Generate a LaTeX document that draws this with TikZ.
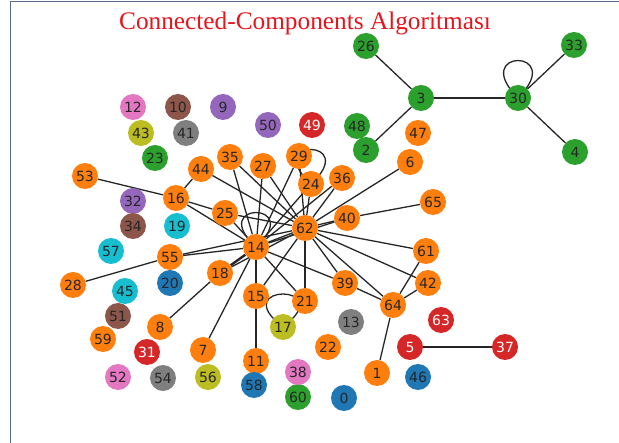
\documentclass[tikz,border=0pt]{standalone}
\usepackage{fontspec}
\setmainfont{DejaVu Sans}
\newfontfamily\titlefont{Liberation Serif}
\usetikzlibrary{backgrounds}
\definecolor{cOr}{HTML}{FF7F0E}
\definecolor{cGr}{HTML}{2CA02C}
\definecolor{cRd}{HTML}{D62728}
\definecolor{cPu}{HTML}{9467BD}
\definecolor{cBr}{HTML}{8C564B}
\definecolor{cPk}{HTML}{E377C2}
\definecolor{cGy}{HTML}{7F7F7F}
\definecolor{cOl}{HTML}{BCBD22}
\definecolor{cCy}{HTML}{17BECF}
\definecolor{cBl}{HTML}{1F77B4}
\definecolor{frameC}{HTML}{5A6B8C}
\definecolor{titleC}{HTML}{E8141C}
\tikzset{
  vx/.style={circle, minimum size=26pt, inner sep=0pt, font=\fontsize{14}{14}\selectfont, text=black!85},
  wt/.style={text=white},
  ln/.style={draw=black!85, line width=1.3pt},
}
\newcommand{\vn}[4]{\node[vx, fill=#4] (n#1) at (#2,#3) {#1};}
\newcommand{\vw}[4]{\node[vx, wt, fill=#4] (n#1) at (#2,#3) {#1};}
\newcommand{\selfloop}[3]{\draw[ln] (n#1.center) .. controls +(-#2,-#3) and +(#2,-#3) .. (n#1.center);}
\begin{document}
\begin{tikzpicture}[x=1pt,y=-1pt]
\useasboundingbox (0,0) rectangle (619,443);
\draw[frameC, line width=1pt] (10,443) -- (10,2) -- (619,2);
\node[text=titleC, font=\titlefont\fontsize{25.3}{28}\selectfont] (title) at (305,23) {Connected-Components Algoritması};
% green
\vn{26}{366}{46}{cGr}
\vn{33}{574}{45}{cGr}
\vn{3}{421}{98}{cGr}
\vn{30}{518}{98}{cGr}
\vn{4}{575}{152}{cGr}
\vn{2}{366}{150}{cGr}
\vn{48}{357}{126}{cGr}
\vn{23}{155}{158}{cGr}
\vn{60}{298}{397}{cGr}
% orange
\vn{47}{418}{133}{cOr}
\vn{6}{410}{162}{cOr}
\vn{44}{201}{169}{cOr}
\vn{35}{230}{157}{cOr}
\vn{27}{263}{166}{cOr}
\vn{29}{299}{156}{cOr}
\vn{24}{311}{184}{cOr}
\vn{36}{342}{178}{cOr}
\vn{53}{85}{176}{cOr}
\vn{16}{176}{198}{cOr}
\vn{25}{225}{213}{cOr}
\vn{62}{305}{228}{cOr}
\vn{40}{347}{218}{cOr}
\vn{65}{433}{202}{cOr}
\vn{14}{256}{247}{cOr}
\vn{55}{170}{257}{cOr}
\vn{61}{426}{251}{cOr}
\vn{28}{73}{285}{cOr}
\vn{18}{220}{273}{cOr}
\vn{39}{345}{283}{cOr}
\vn{42}{428}{283}{cOr}
\vn{15}{256}{296}{cOr}
\vn{21}{305}{301}{cOr}
\vn{64}{393}{305}{cOr}
\vn{8}{160}{327}{cOr}
\vn{59}{103}{339}{cOr}
\vn{7}{203}{350}{cOr}
\vn{22}{328}{347}{cOr}
\vn{11}{256}{361}{cOr}
\vn{1}{377}{373}{cOr}
% red
\vw{49}{312}{125}{cRd}
\vw{63}{441}{320}{cRd}
\vw{31}{147}{352}{cRd}
\vw{5}{410}{347}{cRd}
\vw{37}{505}{347}{cRd}
% purple
\vn{9}{223}{107}{cPu}
\vn{50}{268}{125}{cPu}
\vn{32}{133}{201}{cPu}
% brown
\vn{10}{178}{107}{cBr}
\vn{34}{133}{226}{cBr}
\vn{51}{118}{316}{cBr}
% pink
\vn{12}{133}{107}{cPk}
\vn{38}{298}{372}{cPk}
\vn{52}{118}{377}{cPk}
% gray
\vn{41}{186}{133}{cGy}
\vn{13}{351}{322}{cGy}
\vn{54}{163}{378}{cGy}
% olive
\vn{43}{141}{133}{cOl}
\vn{17}{283}{327}{cOl}
\vn{56}{208}{377}{cOl}
% cyan
\vn{19}{177}{226}{cCy}
\vn{57}{111}{251}{cCy}
\vn{45}{125}{291}{cCy}
% blue
\vn{20}{170}{283}{cBl}
\vn{58}{254}{385}{cBl}
\vn{46}{418}{377}{cBl}
\vn{0}{344}{398}{cBl}
\begin{scope}[on background layer]
% green component
\draw[ln] (n26) -- (n3);
\draw[ln] (n3) -- (n30);
\draw[ln] (n3) -- (n2);
\draw[ln] (n30) -- (n33);
\draw[ln] (n30) -- (n4);
\selfloop{30}{50}{50}
% red
\draw[ln] (n5) -- (n37);
% orange component
\draw[ln] (n53) -- (n16);
\draw[ln] (n16) -- (n44);
\draw[ln] (n16) -- (n25);
\draw[ln] (n16) -- (n14);
\foreach \a in {44,35,27,29,24,36,6,40,61,42,64,39,21,15,25,55,18}
  \draw[ln] (n\a) -- (n62);
\foreach \a in {35,27,29,24,36,40,25,55,7,15,21,39,62}
  \draw[ln] (n\a) -- (n14);
\draw[ln, line width=2.4pt] (n18) -- (n14);
\draw[ln] (n8) -- (n18);
\draw[ln] (n28) -- (n55);
\draw[ln] (n65) -- (n40);
\draw[ln] (n11) -- (n15);
\draw[ln] (n39) -- (n64);
\draw[ln] (n64) -- (n42);
\draw[ln] (n64) -- (n61);
\draw[ln] (n64) -- (n1);
\selfloop{24}{50}{46}
\selfloop{14}{50}{46}
\selfloop{17}{58}{44}
\end{scope}
\end{tikzpicture}
\end{document}
